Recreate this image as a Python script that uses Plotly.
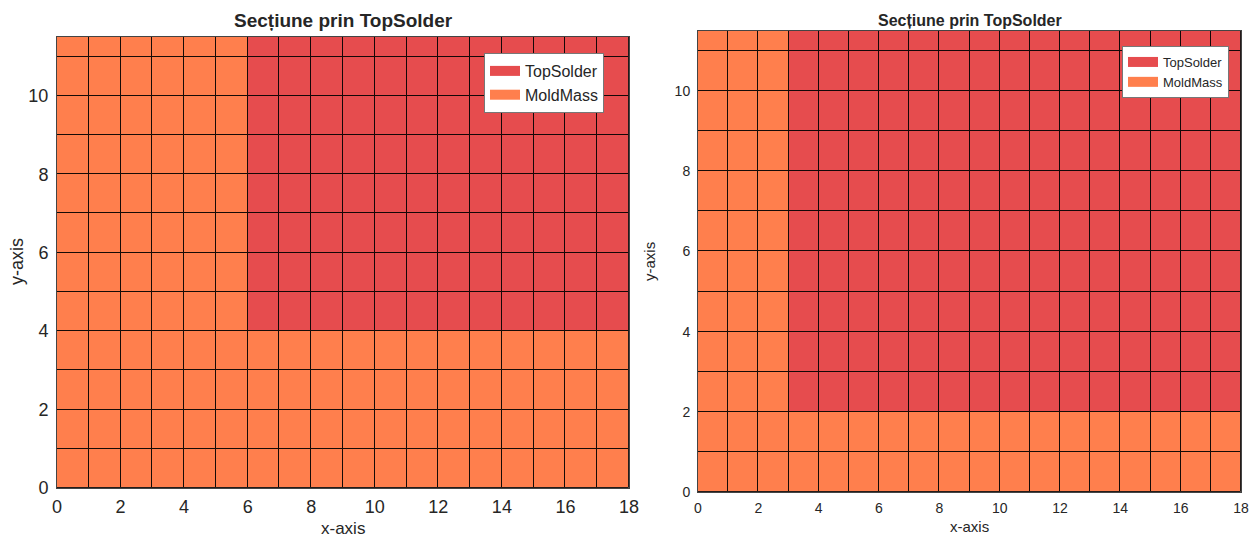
import plotly.graph_objects as go

# Grid definition (cell edges)
x_edges = list(range(0, 19))                      # 0..18
y_edges = [0, 1, 2, 3, 4, 5, 6, 7, 8, 9, 10, 11, 11.5]

# Region of TopSolder in each section: (x_start, y_start); rest is MoldMass
left_top_solder = (6, 4)
right_top_solder = (3, 2)

materials = ["TopSolder", "MoldMass"]
colors = {"TopSolder": "#E64C4E", "MoldMass": "#FF7F4D"}

x_ticks = [0, 2, 4, 6, 8, 10, 12, 14, 16, 18]
y_ticks = [0, 2, 4, 6, 8, 10]
title_text = "Secțiune prin TopSolder"
x_title = "x-axis"
y_title = "y-axis"

FONT = "Liberation Sans, Arial, sans-serif"
TXT = "#262626"


def cells(region):
    xs0, ys0 = region
    out = {m: {"x": [], "base": [], "h": []} for m in materials}
    for i in range(len(x_edges) - 1):
        for j in range(len(y_edges) - 1):
            x0, x1 = x_edges[i], x_edges[i + 1]
            y0, y1 = y_edges[j], y_edges[j + 1]
            m = "TopSolder" if (x0 >= xs0 and y0 >= ys0) else "MoldMass"
            out[m]["x"].append((x0 + x1) / 2)
            out[m]["base"].append(y0)
            out[m]["h"].append(y1 - y0)
    return out


fig = go.Figure()

for region, xa, ya, leg in [
    (left_top_solder, "x", "y", "legend"),
    (right_top_solder, "x2", "y2", "legend2"),
]:
    c = cells(region)
    for m in materials:
        fig.add_trace(go.Bar(
            x=c[m]["x"], y=c[m]["h"], base=c[m]["base"], width=1,
            marker=dict(color=colors[m], line=dict(color="rgba(0,0,0,0.85)", width=1)),
            name=m, xaxis=xa, yaxis=ya, showlegend=False, hoverinfo="skip",
        ))
    # legend entries (wide colour swatches)
    for m in materials:
        fig.add_trace(go.Scatter(
            x=[None], y=[None], mode="lines", name=m,
            line=dict(color=colors[m], width=16),
            xaxis=xa, yaxis=ya, legend=leg, showlegend=True, hoverinfo="skip",
        ))

W, H = 1249, 538


def ax(dom, rng, ticks, size, standoff, anchor):
    return dict(domain=dom, range=rng, tickvals=ticks, anchor=anchor,
                showgrid=False, zeroline=False, showline=True, linecolor="#444",
                mirror=True, ticks="outside", ticklen=standoff, tickcolor="rgba(0,0,0,0)",
                tickfont=dict(family=FONT, size=size, color=TXT), automargin=False,
                fixedrange=True)


fig.update_layout(
    width=W, height=H, autosize=False,
    margin=dict(l=0, r=0, t=0, b=0),
    paper_bgcolor="white", plot_bgcolor="white",
    barmode="overlay", bargap=0,
    font=dict(family=FONT, color=TXT),
    xaxis=ax([57 / W, 629 / W], [0, 18], x_ticks, 18, 2, "y"),
    yaxis=ax([1 - 488 / H, 1 - 37 / H], [0, 11.5], y_ticks, 18, 4, "x"),
    xaxis2=ax([698 / W, 1241 / W], [0, 18], x_ticks, 14, 3, "y2"),
    yaxis2=ax([1 - 492 / H, 1 - 31 / H], [0, 11.5], y_ticks, 14, 4, "x2"),
    legend=dict(x=484 / W, y=1 - 53 / H, xanchor="left", yanchor="top",
                bgcolor="white", bordercolor="#777", borderwidth=1,
                font=dict(family=FONT, size=16, color=TXT), tracegroupgap=0,
                itemwidth=30),
    legend2=dict(x=1122 / W, y=1 - 46 / H, xanchor="left", yanchor="top",
                 bgcolor="white", bordercolor="#777", borderwidth=1,
                 font=dict(family=FONT, size=13, color=TXT), tracegroupgap=0,
                 itemwidth=30),
    annotations=[
        dict(text="<b>" + title_text + "</b>", x=343 / W, y=1 - 20 / H, xref="paper", yref="paper",
             showarrow=False, font=dict(family=FONT, size=19, color=TXT), xanchor="center", yanchor="middle"),
        dict(text="<b>" + title_text + "</b>", x=970 / W, y=1 - 20 / H, xref="paper", yref="paper",
             showarrow=False, font=dict(family=FONT, size=16, color=TXT), xanchor="center", yanchor="middle"),
        dict(text=x_title, x=343 / W, y=1 - 528 / H, xref="paper", yref="paper",
             showarrow=False, font=dict(family=FONT, size=17, color=TXT), xanchor="center", yanchor="middle"),
        dict(text=x_title, x=970 / W, y=1 - 526 / H, xref="paper", yref="paper",
             showarrow=False, font=dict(family=FONT, size=15, color=TXT), xanchor="center", yanchor="middle"),
        dict(text=y_title, x=17 / W, y=1 - 262 / H, xref="paper", yref="paper", textangle=-90,
             showarrow=False, font=dict(family=FONT, size=18, color=TXT), xanchor="center", yanchor="middle"),
        dict(text=y_title, x=649 / W, y=1 - 262 / H, xref="paper", yref="paper", textangle=-90,
             showarrow=False, font=dict(family=FONT, size=15, color=TXT), xanchor="center", yanchor="middle"),
    ],
)

fig.write_html("out.html")
